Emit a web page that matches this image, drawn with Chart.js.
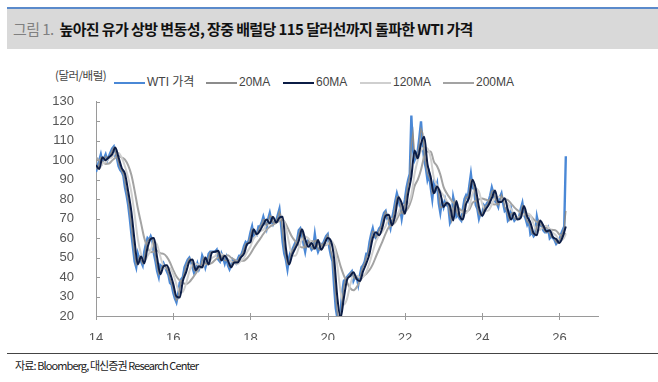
<!DOCTYPE html>
<html><head><meta charset="utf-8">
<script src="https://cdn.jsdelivr.net/npm/chart.js@4.4.1/dist/chart.umd.min.js"></script>
<style>
html,body{margin:0;padding:0;background:#fff;width:658px;height:382px;overflow:hidden;position:relative;font-family:"Liberation Sans",Arial,sans-serif;}
#titlebar{position:absolute;left:7px;top:7px;width:651px;height:42px;background:#d9d9d9;border-top:2px solid #5a8acb;box-sizing:border-box;}
#title{position:absolute;left:6px;top:10px;font-family:"Noto Sans CJK KR",sans-serif;font-size:15px;font-weight:bold;color:#111;letter-spacing:-0.6px;white-space:nowrap;line-height:20px;}
#title .fig{color:#808080;font-weight:normal;margin-right:6px;}
#unit{position:absolute;left:55px;top:67px;font-family:"Noto Sans CJK KR",sans-serif;font-size:11.5px;color:#444;letter-spacing:-0.5px;line-height:16px;}
.leg{position:absolute;top:74px;height:16px;line-height:16px;font-size:12px;color:#444;white-space:nowrap;font-family:"Liberation Sans",Arial,"Noto Sans CJK KR",sans-serif;}
.leg i{position:absolute;left:0;top:8px;width:31px;height:2px;display:block;}
.leg span{position:absolute;left:33px;top:0;}
#chartbox{position:absolute;left:0;top:80px;width:620px;height:260px;}
#footline{position:absolute;left:7px;top:353px;width:651px;height:0;border-top:1.5px solid #444;}
#source{position:absolute;left:15px;top:357px;font-family:"Noto Sans CJK KR",sans-serif;font-size:11px;color:#222;letter-spacing:-0.9px;line-height:16px;}
</style></head>
<body>
<div id="titlebar"><div id="title"><span class="fig">그림 1.</span>높아진 유가 상방 변동성, 장중 배럴당 115 달러선까지 돌파한 WTI 가격</div></div>
<div id="unit">(달러/배럴)</div>
<div class="leg" style="left:114px"><i style="background:#4a88d6"></i><span>WTI 가격</span></div>
<div class="leg" style="left:206px"><i style="background:#8c8c8c"></i><span>20MA</span></div>
<div class="leg" style="left:283px"><i style="background:#0b1c45"></i><span>60MA</span></div>
<div class="leg" style="left:360px"><i style="background:#cfcfcf"></i><span>120MA</span></div>
<div class="leg" style="left:443px"><i style="background:#a3a3a3"></i><span>200MA</span></div>
<div id="chartbox"><canvas id="c" width="620" height="260"></canvas></div>
<div id="footline"></div>
<div id="source">자료: Bloomberg, 대신증권 Research Center</div>
<script>
// ---- data ----
const startYear = 14;            // x axis in 2-digit years
const wtiPerYear = 24;           // half-month observations
const maPerYear = 12;            // monthly observations

const wtiPrice = [
 94,97,100,103,99,101,103,100,102,104,106,107,102,101,97,95,94,92,86,82,77,70,62,55,
 48,45,52,49,48,46,53,57,60,59,61,59,52,48,43,40,46,45,47,45,43,41,37,36,
 32,29,27,31,37,39,40,45,47,49,50,48,45,42,44,47,44,46,51,49,45,48,52,53,
 53,53,53,54,49,48,52,50,47,50,46,44,46,49,48,47,49,51,51,53,56,58,57,59,
 63,66,61,63,62,66,66,68,71,68,65,70,73,69,67,69,69,72,75,67,58,52,49,44,
 50,53,54,56,58,59,64,65,62,57,53,58,59,56,54,55,62,56,53,55,57,57,59,61,
 62,55,51,48,35,24,19,17,22,32,38,39,40,41,42,43,38,40,40,36,41,45,46,48,
 52,52,58,62,65,61,60,63,65,66,70,73,74,70,68,65,70,74,79,83,80,76,70,75,
 80,86,90,93,123,105,100,102,105,112,120,108,100,96,90,93,86,80,88,85,88,78,73,79,
 76,80,77,76,68,70,81,77,71,72,70,69,75,80,82,80,87,93,86,85,77,75,70,73,
 72,77,76,78,79,82,86,83,79,78,76,81,83,78,74,75,69,70,75,71,69,70,70,71,
 75,78,72,70,67,69,62,63,61,62,71,67,67,66,64,63,63,65,60,61,60,59,57,58,
 59,62,64,66,102
];

const ma20 = [
 96,95.5,98.5,101.5,101,100,102,101.5,101,103,105,106.5,104.5,101.5,99,96,94.5,93,89,84,79.5,73.5,66,58.5,
 51.5,46.5,48.5,50.5,48.5,47,49.5,55,58.5,59.5,60,60,55.5,50,45.5,41.5,43,45.5,46,46,44,42,39,36.5,
 34,30.5,28,29,34,38,39.5,42.5,46,48,49.5,49,46.5,43.5,43,45.5,45.5,45,48.5,50,47,46.5,50,52.5,
 53,53,53,53.5,51.5,48.5,50,51,48.5,48.5,48,45,45,47.5,48.5,47.5,48,50,51,52,54.5,57,57.5,58,
 61,64.5,63.5,62,62.5,64,66,67,69.5,69.5,66.5,67.5,71.5,71,68,68,69,70.5,73.5,71,62.5,55,50.5,46.5,
 47,51.5,53.5,55,57,58.5,61.5,64.5,63.5,59.5,55,55.5,58.5,57.5,55,54.5,58.5,59,54.5,54,56,57,58,60,
 61.5,58.5,53,49.5,41.5,29.5,21.5,18,19.5,27,35,38.5,39.5,40.5,41.5,42.5,40.5,39,40,38,38.5,43,45.5,47,
 50,52,55,60,63.5,63,60.5,61.5,64,65.5,68,71.5,73.5,72,69,66.5,67.5,72,76.5,81,81.5,78,73,72.5,
 77.5,83,88,91.5,108,114,102.5,101,103.5,108.5,116,114,104,98,93,91.5,89.5,83,84,86.5,86.5,83,75.5,76,
 77.5,78,78.5,76.5,72,69,75.5,79,74,71.5,71,69.5,72,77.5,81,81,83.5,90,89.5,85.5,81,76,72.5,71.5,
 72.5,74.5,76.5,77,78.5,80.5,84,84.5,81,78.5,77,78.5,82,80.5,76,74.5,72,69.5,72.5,73,70,69.5,70,70.5,
 73,76.5,75,71,68.5,68,65.5,62.5,62,61.5,66.5,69,67,66.5,65,63.5,63,64,62.5,60.5,60.5,59.5,58,57.5,
 58.5,60.5,63,65,74
];

const ma60 = [
 97.5,95.5,101.5,100,101.5,103,106.5,101.5,96,93,84,73.5,
 58.5,46.5,50.5,47,55,59.5,60,50,41.5,45.5,46,42,
 36.5,30,29.5,38,42.5,48,49,43.5,45.5,45,50,46.5,
 52.5,53,53.5,48.5,51,48.5,45,47.5,47.5,50,52,57,
 58,64.5,62,64,67,69.5,67.5,71,68,70.5,71,55,
 46.5,51.5,55,58.5,64.5,59.5,55.5,57.5,54.5,59,54,57,
 60,58.5,49.5,29.5,19,29,38.5,40.5,42.5,39,38,43,
 47,52,60,63,61.5,65.5,71.5,72,66.5,72,81,78,
 72.5,83,91.5,105,101,108.5,112,98,91.5,83,86.5,83,
 76,78,76.5,69,79,71.5,69.5,77.5,81,90,85.5,76,
 71.5,74.5,77,80.5,84.5,78.5,78.5,80.5,74.5,69.5,73,69.5,
 70.5,76.5,71,68,62.5,61.5,69,66.5,63.5,64,60.5,59.5,
 57.5,60.5,66
];

const ma120 = [
 97.2,95.5,98.2,99,101,101.5,103.7,103.7,101.3,96.8,91,83.5,
 72,59.5,51.8,48,50.8,53.8,58.2,56.5,50.5,45.7,44.3,44.5,
 41.5,36.2,32,32.5,36.7,42.8,46.5,46.8,46,44.7,46.8,47.2,
 49.7,50.7,53,51.7,51,49.3,48.2,47,46.7,48.3,49.8,53,
 55.7,59.8,61.5,63.5,64.3,66.8,68,69.3,68.8,69.8,69.8,65.5,
 57.5,51,51,55,59.3,60.8,59.8,57.5,55.8,57,55.8,56.7,
 57,58.5,56,45.8,32.7,25.8,28.8,36,40.5,40.7,39.8,40,
 42.7,47.3,53,58.3,61.5,63.3,66.2,69.7,70,70.2,73.2,77,
 77.2,77.8,82.3,93,100,104.8,106.5,106,101.2,90.8,87,84.2,
 81.8,79,76.8,74.5,74.8,73.2,73.3,72.8,76,82.8,85.5,83.8,
 77.7,74,74.3,77.3,80.7,81.2,80.5,79.2,77.8,74.8,72.3,70.7,
 71,72.2,72.7,71.8,67.2,64,64.3,65.7,66.3,64.7,62.7,61.3,
 59.2,59.2,62
];

const ma200 = [
 101.5,99.9,99.1,98.1,98.3,99.8,101.3,102.3,101.4,100.3,97.3,92.4,
 84.4,75.3,67.7,60,55.2,52.8,53.1,53.7,52.2,51.9,50.4,47.5,
 43.6,40.3,38.3,37,36.4,37.4,39.5,41.8,44.4,45.6,46.8,46.6,
 47.2,48.8,50.1,50.7,50.8,51.2,49.9,49,48,48.3,48.4,49.8,
 52,54.8,57.3,59.6,62.1,64.2,65.8,66.8,67.8,68.9,69.6,67.2,
 63.7,60.4,58.3,56.3,55.2,55.9,57.4,58.4,58.3,58.4,56.7,56.3,
 57,57.2,56.3,51.4,45.6,40.9,37.3,34.3,33.2,34.8,37.9,40.3,
 41.7,43.6,46.5,50.5,54.4,58.2,62.3,65.6,66.7,68.2,71.4,73.5,
 73.7,75.5,79.7,86.7,90,95.1,102,104.5,104.5,99.3,96.9,92.7,
 86.3,83,80.5,78.2,76.9,75,73.9,73.8,74.6,78.1,79.2,79.9,
 80.3,79.8,79.1,77.5,77.3,77.8,78.9,79.9,79.5,77.7,75.8,74.3,
 72.9,72.3,71.7,71.4,69.7,68.3,68.1,66.4,65.2,64.5,64.2,63.8,
 61.9,60.9,62.5
];

const xTickValues = [14,16,18,20,22,24,26];
const xMin = 14, xMax = 27;
const yMin = 20, yMax = 130, yStep = 10;

// ---- build ----
const toPts = (arr, perYear) => arr.map((v,i)=>({x:startYear + i/perYear, y:v}));

const tickMarks = {
  id:'tickMarks',
  afterDraw(chart){
    const {ctx, chartArea:a, scales:{x,y}} = chart;
    ctx.save();
    ctx.strokeStyle = '#9a9a9a';
    ctx.lineWidth = 1;
    ctx.beginPath();
    y.ticks.forEach(t=>{const p=Math.round(y.getPixelForValue(t.value))+0.5; ctx.moveTo(a.left,p); ctx.lineTo(a.left+4,p);});
    x.ticks.forEach(t=>{const p=Math.round(x.getPixelForValue(t.value))+0.5; ctx.moveTo(p,a.bottom-3); ctx.lineTo(p,a.bottom+4);});
    ctx.stroke();
    ctx.restore();
  }
};

const common = {pointRadius:0, pointHoverRadius:0, fill:false};
new Chart(document.getElementById('c'), {
  type:'line',
  data:{datasets:[
    Object.assign({label:'60MA', data:toPts(ma60,maPerYear), borderColor:'#0b1c45', borderWidth:2, cubicInterpolationMode:'monotone', order:0}, common),
    Object.assign({label:'20MA', data:toPts(ma20,wtiPerYear), borderColor:'#8c8c8c', borderWidth:1.4, tension:0, order:1}, common),
    Object.assign({label:'120MA', data:toPts(ma120,maPerYear), borderColor:'#cfcfcf', borderWidth:2, cubicInterpolationMode:'monotone', order:2}, common),
    Object.assign({label:'200MA', data:toPts(ma200,maPerYear), borderColor:'#a3a3a3', borderWidth:2, cubicInterpolationMode:'monotone', order:3}, common),
    Object.assign({label:'WTI 가격', data:toPts(wtiPrice,wtiPerYear), borderColor:'#4a88d6', borderWidth:2.4, tension:0, order:4}, common)
  ]},
  options:{
    responsive:false, animation:false, devicePixelRatio:1,
    layout:{padding:{left:0,right:22,top:16,bottom:0}},
    plugins:{legend:{display:false}, tooltip:{enabled:false}},
    scales:{
      x:{type:'linear', min:xMin, max:xMax,
         afterBuildTicks:(s)=>{s.ticks = xTickValues.map(v=>({value:v}));},
         afterFit:(s)=>{s.height = 24;},
         grid:{display:false}, border:{display:true,color:'#9a9a9a',width:1},
         ticks:{padding:7, color:'#555', font:{family:'"Liberation Sans", Arial, sans-serif', size:13}, maxRotation:0, autoSkip:false, callback:(v)=>String(v)}},
      y:{min:yMin, max:yMax,
         afterFit:(s)=>{s.width = 96;},
         grid:{display:false}, border:{display:true,color:'#9a9a9a',width:1},
         ticks:{stepSize:yStep, padding:14, color:'#555', font:{family:'"Liberation Sans", Arial, sans-serif', size:13}}}
    }
  },
  plugins:[tickMarks]
});
</script>
</body></html>
